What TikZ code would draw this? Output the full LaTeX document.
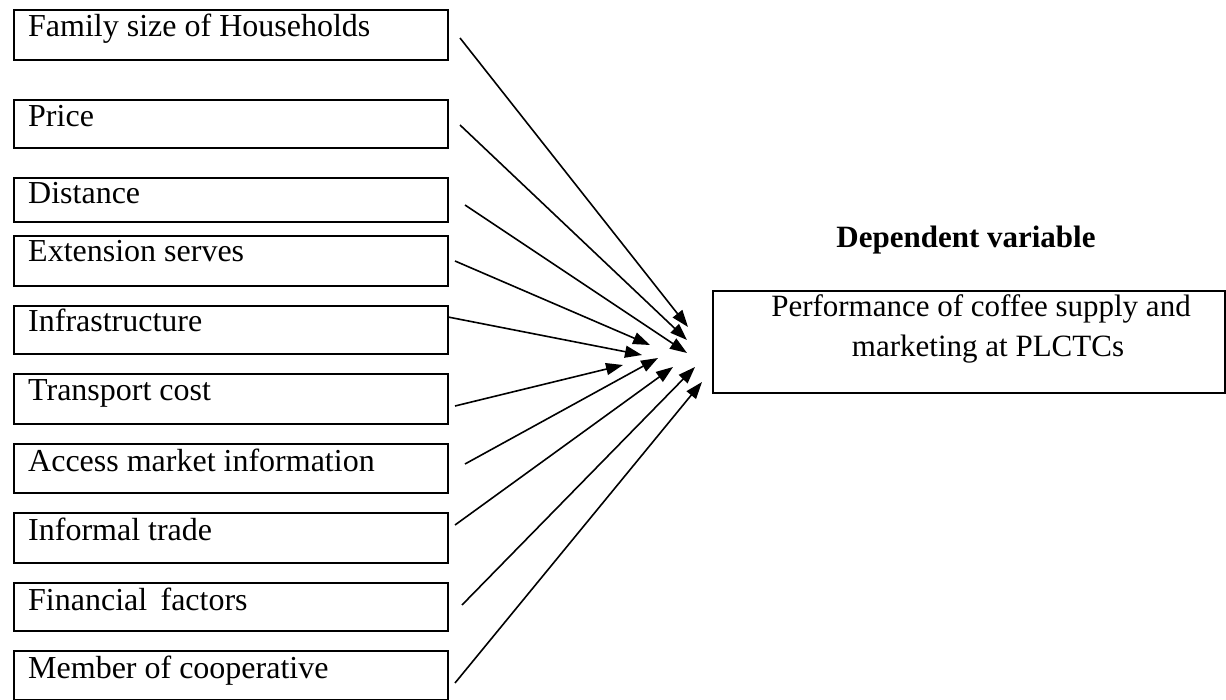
\documentclass[tikz,border=0pt]{standalone}
\usepackage{fontspec}
\setmainfont{Liberation Serif}
\usetikzlibrary{arrows.meta}
\begin{document}
\begin{tikzpicture}[x=1pt,y=-1pt,
  fbox/.style={draw, line width=1.9pt, anchor=north west, minimum width=434pt, inner sep=0pt},
  lab/.style={anchor=base west, inner sep=0pt, font=\fontsize{32}{37}\selectfont},
  ctr/.style={anchor=base, inner sep=0pt, font=\fontsize{31}{36}\selectfont},
  conn/.style={line width=1.6pt, -{Triangle[length=17pt,width=12pt]}}]
\useasboundingbox (0,0) rectangle (1226,700);
% left boxes
\node[fbox, minimum height=50pt] (b1) at (13,9) {};
\node[fbox, minimum height=48pt] (b2) at (13,99) {};
\node[fbox, minimum height=44pt] (b3) at (13,177) {};
\node[fbox, minimum height=50pt] (b4) at (13,235) {};
\node[fbox, minimum height=48pt] (b5) at (13,305) {};
\node[fbox, minimum height=50pt] (b6) at (13,373) {};
\node[fbox, minimum height=49pt] (b7) at (13,443) {};
\node[fbox, minimum height=50pt] (b8) at (13,512) {};
\node[fbox, minimum height=48pt] (b9) at (13,582) {};
\node[fbox, minimum height=49pt] (b10) at (13,650) {};
% labels
\node[lab] (l1) at (28,37) {Family size of Households};
\node[lab] (l2) at (28,127) {Price};
\node[lab] (l3) at (28,204) {Distance};
\node[lab] (l4) at (28,262) {Extension serves};
\node[lab] (l5) at (28,332) {Infrastructure};
\node[lab] (l6) at (28,400) {Transport cost};
\node[lab] (l7) at (28,471) {Access market information};
\node[lab] (l8) at (28,540) {Informal trade};
\node[lab] (l9) at (28,610) {Financial\, factors};
\node[lab] (l10) at (28,678) {Member of cooperative};
% right box
\node[draw, line width=1.9pt, anchor=north west, minimum width=512pt, minimum height=102pt, inner sep=0pt] (dv) at (712,290) {};
\node[ctr, font=\fontsize{31}{36}\selectfont\bfseries] (dvt) at (966,248) {Dependent variable};
\node[ctr] (p1) at (981,317) {Performance of coffee supply and};
\node[ctr] (p2) at (988,357) {marketing at PLCTCs};
% connector ends
\coordinate (s1) at (460,38);   \coordinate (t1) at (688,327);
\coordinate (s2) at (460,125);  \coordinate (t2) at (687,340);
\coordinate (s3) at (465,205);  \coordinate (t3) at (687,353);
\coordinate (s4) at (455,261);  \coordinate (t4) at (650,345);
\coordinate (s5) at (448,317);  \coordinate (t5) at (642,355);
\coordinate (s6) at (455,406);  \coordinate (t6) at (623,365);
\coordinate (s7) at (465,464);  \coordinate (t7) at (658,358);
\coordinate (s8) at (455,525);  \coordinate (t8) at (673,367);
\coordinate (s9) at (462,605);  \coordinate (t9) at (695,367);
\coordinate (s10) at (455,683); \coordinate (t10) at (702,382);
\foreach \i in {1,...,10} {\draw[conn] (s\i) -- (t\i);}
\end{tikzpicture}
\end{document}
